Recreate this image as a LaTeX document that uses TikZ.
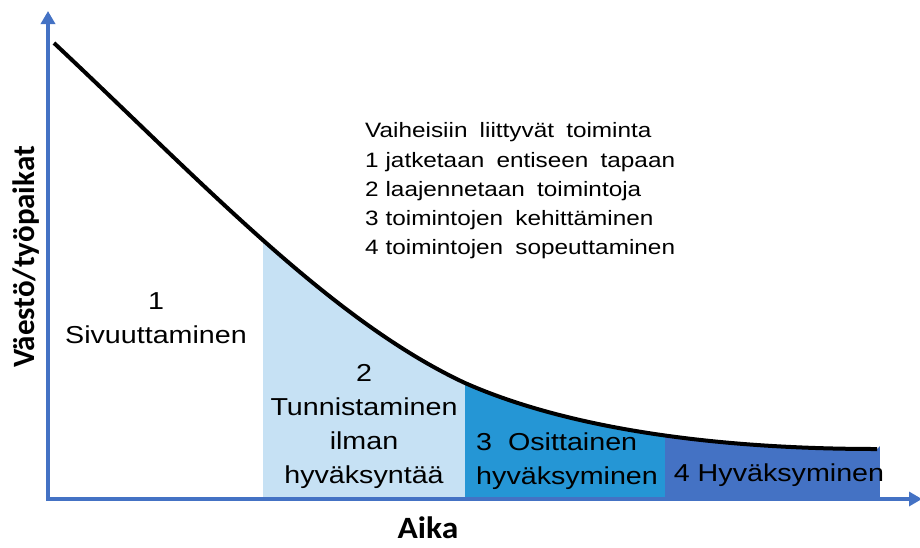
\documentclass[tikz,border=0pt]{standalone}
\usepackage{fontspec}
\setmainfont{Liberation Sans}
\newfontfamily\labelfont{Carlito}
\usetikzlibrary{arrows.meta}
\definecolor{axisblue}{HTML}{4472C4}
\definecolor{phaseA}{HTML}{C6E1F4}
\definecolor{phaseB}{HTML}{2596D5}
\definecolor{phaseC}{HTML}{4472C4}
\newcommand\widewordgap{\spaceskip=0.5em plus 0.1em\relax}
\newcommand\numgap{\hspace{0.28em}}
\tikzset{
  axis/.style={draw=axisblue, line width=4pt, -{Triangle[length=13pt,width=14pt]}},
  trend/.style={draw=black, line width=4pt},
  txt/.style={inner sep=0pt, xscale=1.17, transform shape},
  big/.style={txt, font=\fontsize{24.5}{34}\selectfont},
  small/.style={txt, font=\fontsize{20.8}{29.3}\selectfont},
  axlabel/.style={inner sep=0pt, font=\labelfont\bfseries\fontsize{31}{36}\selectfont},
}
\begin{document}
\begin{tikzpicture}[x=1pt, y=-1pt]
\useasboundingbox (0,0) rectangle (920,547);

% shaded phases under the curve
\begin{scope}
  \clip (54,43) .. controls (200,180) and (330,320) .. (465,383)
        .. controls (560,425) and (700,449) .. (877,449)
        -- (880,446) -- (880,499) -- (54,499) -- cycle;
  \fill[phaseA] (263,0) rectangle (465,500);
  \fill[phaseB] (465,0) rectangle (665,500);
  \fill[phaseC] (665,0) rectangle (880,500);
\end{scope}

% declining curve
\draw[trend] (54,43) .. controls (200,180) and (330,320) .. (465,383)
      .. controls (560,425) and (700,449) .. (877,449);

% axes
\coordinate (origin) at (48,501);
\coordinate (ytop) at (48,11);
\coordinate (xend) at (922,499);
\draw[axis] (origin) -- (ytop);
\draw[axis] (46,499) -- (xend);

% axis labels
\node[axlabel, xscale=1.08, transform shape] (xlab) at (428,528) {Aika};
\node[axlabel, rotate=90] (ylab) at (26,257) {Väestö/työpaikat};

% phase labels
\node[big, align=center] (p1) at (156,318) {1\\Sivuuttaminen};
\node[big, align=center] (p2) at (364,426) {2\\Tunnistaminen\\ilman\\hyväksyntää};
\node[big, align=left, anchor=west] (p3) at (476,461) {3\ \ Osittainen\\hyväksyminen};
\node[big] (p4) at (779,475) {4 Hyväksyminen};

% list of actions
\node[small, align=left, anchor=west] (list) at (365,191)
  {\widewordgap Vaiheisiin liittyvät toiminta\\
   \widewordgap 1\numgap jatketaan entiseen tapaan\\
   \widewordgap 2\numgap laajennetaan toimintoja\\
   \widewordgap 3\numgap toimintojen kehittäminen\\
   \widewordgap 4\numgap toimintojen sopeuttaminen};
\end{tikzpicture}
\end{document}
